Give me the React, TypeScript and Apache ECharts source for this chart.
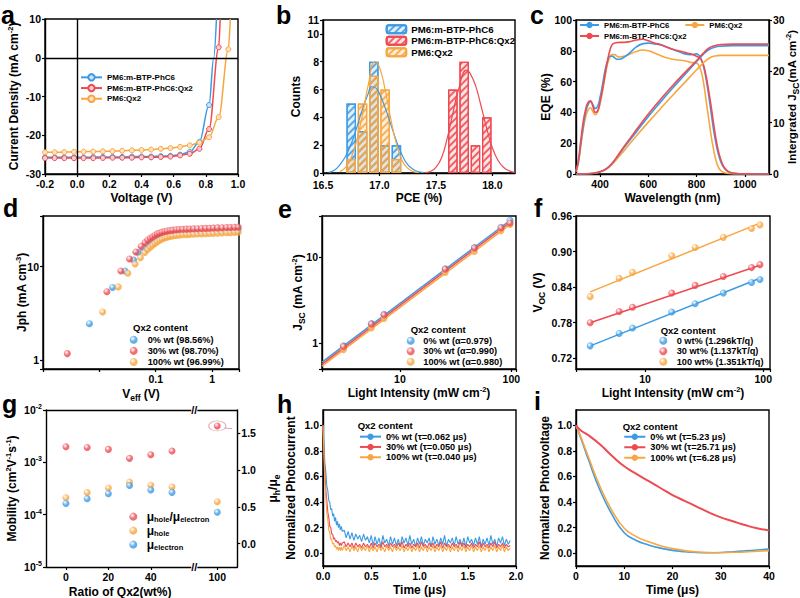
import React, { useEffect, useRef } from "react";
import * as echarts from "echarts";

const FONT = '"Liberation Sans", Arial, Helvetica, sans-serif';
const BLUE = "#3d9be3";
const RED = "#ee4a52";
const ORANGE = "#f8a640";

// ---------- a : J-V ----------
const aVoltage = [-0.2, -0.14, -0.08, -0.02, 0.04, 0.1, 0.16, 0.22, 0.28, 0.34, 0.4, 0.46, 0.52, 0.58, 0.64, 0.7, 0.76, 0.82, 0.88, 0.94];
const aJBlue = [-25.7, -25.7, -25.7, -25.7, -25.7, -25.6, -25.6, -25.6, -25.6, -25.5, -25.5, -25.5, -25.4, -25.3, -25.0, -24.3, -21.7, -12.2];
const aJRed = [-25.9, -25.9, -25.9, -25.9, -25.9, -25.9, -25.85, -25.8, -25.8, -25.8, -25.7, -25.7, -25.6, -25.5, -25.2, -24.8, -23.5, -18.4, 2.7];
const aJOrange = [-24.4, -24.4, -24.35, -24.3, -24.25, -24.2, -24.15, -24.1, -24.0, -23.9, -23.8, -23.7, -23.5, -23.3, -23.0, -22.6, -21.9, -20.5, -15.3, 2.2];
const aTailBlue = [[0.849, 0], [0.866, 10]];
const aTailRed = [[0.889, 10]];
const aTailOrange = [[0.952, 10]];

// ---------- b : PCE histogram ----------
const bBinsLow = [16.75, 16.85, 16.95, 17.05, 17.15];
const bCountsBlue = [5, 3, 8, 2, 2];
const bCountsOrange = [1, 5, 7, 6, 1];
const bBinsHigh = [17.65, 17.75, 17.85, 17.95];
const bCountsRed = [6, 8, 2, 4];
const bFitBlue = [[16.55, 0.05], [16.6, 0.2], [16.65, 0.6], [16.7, 1.2], [16.75, 2.1], [16.8, 3.3], [16.85, 4.6], [16.9, 5.7], [16.93, 6.2], [16.97, 6.1], [17.0, 5.7], [17.05, 4.7], [17.1, 3.5], [17.15, 2.3], [17.2, 1.3], [17.25, 0.6], [17.3, 0.25], [17.35, 0.08], [17.4, 0.02]];
const bFitOrange = [[16.65, 0.1], [16.7, 0.4], [16.75, 1.1], [16.8, 2.4], [16.85, 4.2], [16.9, 6.3], [16.96, 8.0], [17.0, 7.6], [17.05, 6.0], [17.1, 3.9], [17.15, 2.1], [17.2, 0.9], [17.25, 0.35], [17.3, 0.1], [17.35, 0.02]];
const bFitRed = [[17.4, 0.02], [17.45, 0.1], [17.5, 0.4], [17.55, 1.1], [17.6, 2.5], [17.65, 4.3], [17.7, 6.0], [17.77, 7.4], [17.8, 7.2], [17.85, 6.3], [17.9, 4.8], [17.95, 3.2], [18.0, 1.8], [18.05, 0.9], [18.1, 0.4], [18.15, 0.15], [18.2, 0.05]];
const bTicks = [16.5, 17.0, 17.5, 18.0];

// ---------- c : EQE ----------
const cWave = [300, 310, 320, 330, 340, 350, 360, 370, 380, 390, 400, 410, 420, 430, 440, 450, 460, 470, 480, 500, 525, 550, 575, 600, 625, 650, 675, 700, 725, 750, 775, 800, 810, 820, 830, 840, 850, 860, 870, 880, 890, 900, 910, 920, 930, 950, 975, 1000, 1050, 1100];
const cEqeBlue = [2, 8, 20, 31, 40, 45, 47, 45, 42.5, 44, 50, 58, 67, 73, 76.5, 76.5, 75.5, 74.5, 74.5, 76, 79, 82.5, 84.5, 85, 84.5, 84, 82.5, 81, 79.5, 78, 77.5, 78, 77, 74, 69, 61, 51, 40, 29, 20, 13, 8, 4.8, 2.8, 1.6, 0.5, 0.2, 0.1, 0, 0];
const cEqeRed = [2, 9, 22, 34, 42, 46.5, 47.5, 44, 40, 41, 47, 55, 64, 73, 80, 84, 85, 85.3, 85.5, 85.5, 86, 87, 87.5, 86.5, 85, 84, 82.5, 81, 80, 79, 78, 76.5, 75.5, 74, 70, 63, 54, 44, 33, 23, 15, 9.5, 5.5, 3.2, 1.8, 0.6, 0.2, 0.1, 0, 0];
const cEqeOrange = [1.5, 7, 18, 29, 37, 41.5, 43, 40.5, 38.5, 40.5, 46, 54, 63, 71, 75.5, 77.5, 77.5, 76.5, 76, 76.5, 78, 79.5, 80.5, 80, 78.5, 77, 75.5, 74.5, 74, 73.5, 72.5, 72, 70, 66, 58, 47, 36, 25, 16, 9, 4.5, 2.3, 1.2, 0.7, 0.4, 0.1, 0, 0, 0, 0];
const cWaveJ = [300, 350, 400, 425, 450, 475, 500, 550, 600, 650, 700, 750, 800, 825, 850, 875, 900, 950, 1000, 1100];
const cJscBlue = [0, 0.05, 0.45, 1.0, 2.1, 3.6, 5.2, 8.2, 11.2, 14.0, 16.7, 19.3, 21.9, 23.2, 24.2, 24.7, 24.9, 25.0, 25.0, 25.0];
const cJscRed = [0, 0.05, 0.45, 1.0, 2.1, 3.7, 5.4, 8.6, 11.7, 14.5, 17.2, 19.7, 22.1, 23.4, 24.5, 25.0, 25.2, 25.3, 25.3, 25.3];
const cJscOrange = [0, 0.04, 0.4, 0.9, 1.9, 3.2, 4.6, 7.4, 10.1, 12.7, 15.3, 17.8, 20.3, 21.5, 22.5, 23.0, 23.1, 23.1, 23.1, 23.1];
const cTicks = [400, 600, 800, 1000];

// ---------- d : Jph vs Veff ----------
const dSparseBlue = [[0.00667, 2.45], [0.0172, 6.0], [0.0284, 9.0], [0.0404, 11.8], [0.0488, 14.2], [0.0606, 15.9]];
const dSparseRed = [[0.0027, 1.17], [0.0136, 5.4], [0.0241, 9.0], [0.0343, 12.1], [0.0443, 14.4], [0.055, 16.6], [0.0648, 18.2]];
const dSparseOrange = [[0.01146, 3.27], [0.0216, 6.08], [0.032, 8.5], [0.043, 10.7], [0.0536, 12.5], [0.064, 14.2]];
const dDenseV = [0.072, 0.08, 0.088, 0.097, 0.107, 0.118, 0.13, 0.145, 0.16, 0.18, 0.2, 0.23, 0.26, 0.3, 0.35, 0.4, 0.47, 0.55, 0.65, 0.77, 0.9, 1.05, 1.25, 1.5, 1.8, 2.1, 2.5, 2.9];
const dDenseBlue = [17.3, 18.3, 19.2, 20.0, 20.8, 21.4, 21.9, 22.4, 22.8, 23.1, 23.4, 23.6, 23.8, 23.9, 24.0, 24.1, 24.2, 24.3, 24.4, 24.5, 24.6, 24.6, 24.7, 24.8, 24.9, 25.0, 25.1, 25.2];
const dDenseRed = [19.3, 20.2, 21.0, 21.8, 22.5, 23.0, 23.5, 23.9, 24.2, 24.5, 24.7, 24.9, 25.1, 25.2, 25.3, 25.4, 25.5, 25.6, 25.7, 25.8, 25.9, 26.0, 26.1, 26.2, 26.3, 26.4, 26.5, 26.6];
const dDenseOrange = [15.3, 16.2, 17.0, 17.8, 18.5, 19.2, 19.8, 20.3, 20.7, 21.1, 21.4, 21.6, 21.8, 22.0, 22.1, 22.2, 22.3, 22.4, 22.5, 22.6, 22.7, 22.8, 22.9, 23.0, 23.1, 23.2, 23.3, 23.4];

// ---------- e : Jsc vs light ----------
const eLight = [3.12, 5.55, 7.2, 25.5, 46.6, 80.7, 97.2];
const eJscBlue = [0.93, 1.69, 2.16, 7.3, 12.9, 22.2, 26.7];
const eJscRed = [0.91, 1.66, 2.12, 7.2, 12.7, 21.8, 24.9];
const eJscOrange = [0.84, 1.5, 1.93, 6.6, 11.6, 20.3, 23.9];
const eFitLight = [2, 97];
const eFitBlue = [0.6, 26.6];
const eFitRed = [0.57, 25.3];
const eFitOrange = [0.54, 23.8];

// ---------- f : Voc vs light ----------
const fLight = [3.43, 6.03, 7.82, 16.8, 26.5, 45.9, 79.6, 93.7];
const fVocBlue = [0.741, 0.762, 0.771, 0.798, 0.812, 0.83, 0.848, 0.853];
const fVocRed = [0.78, 0.799, 0.806, 0.83, 0.843, 0.858, 0.873, 0.878];
const fVocOrange = [0.824, 0.855, 0.865, 0.893, 0.907, 0.924, 0.939, 0.945];
const fFitLight = [3.43, 93.7];
const fFitBlue = [0.741, 0.855];
const fFitRed = [0.78, 0.877];
const fFitOrange = [0.832, 0.948];
const fTicks = [0.72, 0.78, 0.84, 0.9, 0.96];

// ---------- g : mobility ----------
const gRatioQx2 = [0, 10, 20, 30, 40, 50, 100];
const gHole = [2.1e-4, 2.64e-4, 3.24e-4, 4.18e-4, 3.66e-4, 3.39e-4, 1.77e-4];
const gElectron = [1.64e-4, 2.02e-4, 2.52e-4, 3.6e-4, 2.96e-4, 2.67e-4, 1.11e-4];
const gRatio = [1.318, 1.31, 1.283, 1.161, 1.21, 1.26, 1.603];
const gTicksLeft = [0, 20, 40];
const gTicksRight = [100];
const gTicksRatio = [0, 0.5, 1.0, 1.5];

// ---------- h : TPC ----------
const hHeadBlue = [1.0, 0.86, 0.7, 0.63, 0.52, 0.49, 0.41, 0.4, 0.34, 0.35, 0.29, 0.31, 0.25, 0.28, 0.22, 0.25, 0.2, 0.23, 0.18, 0.21, 0.17];
const hHeadRed = [1.0, 0.8, 0.63, 0.49, 0.41, 0.32, 0.28, 0.21, 0.2, 0.15, 0.15, 0.11, 0.12, 0.09, 0.1, 0.08, 0.09, 0.06, 0.08, 0.06, 0.08];
const hHeadOrange = [1.0, 0.76, 0.54, 0.43, 0.31, 0.26, 0.18, 0.16, 0.11, 0.11, 0.07, 0.08, 0.05, 0.06, 0.03, 0.05, 0.02, 0.05, 0.02, 0.05, 0.02];
const hTailBlue = [0.18, 0.12, 0.17, 0.11, 0.16, 0.1, 0.15, 0.11, 0.14, 0.09, 0.15, 0.1, 0.13, 0.08, 0.14,
  0.06, 0.13, 0.07, 0.12, 0.05, 0.14, 0.08, 0.11, 0.06, 0.13, 0.07, 0.12, 0.06, 0.11, 0.05, 0.13, 0.08, 0.12, 0.06, 0.14,
  0.07, 0.11, 0.05, 0.12, 0.07, 0.13, 0.06, 0.11, 0.08, 0.12, 0.05, 0.13, 0.07, 0.11, 0.06, 0.12, 0.07, 0.14, 0.05, 0.11,
  0.08, 0.12, 0.06, 0.13, 0.07, 0.11, 0.06, 0.12, 0.05, 0.13, 0.08, 0.11, 0.06, 0.12, 0.07, 0.13, 0.05, 0.11, 0.07, 0.12,
  0.06, 0.14, 0.07, 0.11, 0.05, 0.12, 0.08, 0.13, 0.06, 0.11, 0.07, 0.1];
const hTailRed = [0.09, 0.05, 0.08, 0.05, 0.08, 0.04, 0.08, 0.05, 0.07, 0.04, 0.08, 0.05, 0.07, 0.04, 0.08,
  0.04, 0.08, 0.05, 0.07, 0.04, 0.09, 0.05, 0.07, 0.04, 0.08, 0.05, 0.07, 0.04, 0.08, 0.05, 0.09, 0.04, 0.07, 0.05, 0.08,
  0.04, 0.07, 0.05, 0.08, 0.04, 0.09, 0.05, 0.07, 0.04, 0.08, 0.05, 0.08, 0.04, 0.07, 0.05, 0.09, 0.04, 0.08, 0.05, 0.07,
  0.04, 0.08, 0.05, 0.07, 0.04, 0.09, 0.05, 0.08, 0.04, 0.07, 0.05, 0.08, 0.04, 0.07, 0.05, 0.09, 0.04, 0.08, 0.05, 0.07,
  0.04, 0.08, 0.05, 0.09, 0.04, 0.07, 0.05, 0.08, 0.04, 0.07, 0.05, 0.06];
const hTailOrange = [0.06, 0.02, 0.05, 0.01, 0.06, 0.02, 0.05, 0.01, 0.06, 0.02, 0.05, 0.02, 0.06, 0.01, 0.05,
  0.02, 0.05, 0.01, 0.06, 0.02, 0.05, 0.01, 0.06, 0.02, 0.05, 0.01, 0.06, 0.02, 0.05, 0.02, 0.06, 0.01, 0.05, 0.02, 0.06,
  0.01, 0.05, 0.02, 0.06, 0.01, 0.05, 0.02, 0.06, 0.01, 0.05, 0.02, 0.06, 0.01, 0.05, 0.02, 0.06, 0.01, 0.05, 0.02, 0.06,
  0.01, 0.05, 0.02, 0.06, 0.01, 0.05, 0.02, 0.06, 0.01, 0.05, 0.02, 0.06, 0.01, 0.05, 0.02, 0.06, 0.01, 0.05, 0.02, 0.06,
  0.01, 0.05, 0.02, 0.06, 0.01, 0.05, 0.02, 0.06, 0.01, 0.05, 0.02, 0.04];
const hHeadStep = 0.01;
const hTailStart = 0.22;
const hTailStep = 0.02;
const normTicks = [0, 0.2, 0.4, 0.6, 0.8, 1.0];

// ---------- i : TPV ----------
const iTime = [0, 1, 2.5, 5, 7.5, 10, 12.5, 15, 17.5, 20, 22.5, 25, 27.5, 30, 32.5, 35, 37.5, 40];
const iBlue = [1.0, 0.9, 0.74, 0.49, 0.3, 0.16, 0.1, 0.065, 0.04, 0.022, 0.012, 0.006, 0.004, 0.006, 0.012, 0.018, 0.025, 0.032];
const iOrange = [1.0, 0.91, 0.76, 0.52, 0.33, 0.195, 0.13, 0.09, 0.058, 0.036, 0.02, 0.01, 0.005, 0.004, 0.007, 0.01, 0.015, 0.02];
const iRed = [1.0, 0.96, 0.925, 0.85, 0.76, 0.68, 0.62, 0.565, 0.51, 0.455, 0.41, 0.365, 0.32, 0.28, 0.25, 0.22, 0.195, 0.178];

// ---------- labels ----------
const LABELS: Record<string, string> = {
  a0: "PM6:m-BTP-PhC6", a1: "PM6:m-BTP-PhC6:Qx2", a2: "PM6:Qx2",
  b0: "PM6:m-BTP-PhC6", b1: "PM6:m-BTP-PhC6:Qx2", b2: "PM6:Qx2",
  c0: "PM6:m-BTP-PhC6", c1: "PM6:m-BTP-PhC6:Qx2", c2: "PM6:Qx2",
  d0: "0% wt (98.56%)", d1: "30% wt (98.70%)", d2: "100% wt (96.99%)",
  e0: "0% wt (α=0.979)", e1: "30% wt (α=0.990)", e2: "100% wt (α=0.980)",
  f0: "0 wt% (1.296kT/q)", f1: "30 wt% (1.137kT/q)", f2: "100 wt% (1.351kT/q)",
  g0: "{m|μ}{s|hole}{m|/μ}{s|electron}", g1: "{m|μ}{s|hole}", g2: "{m|μ}{s|electron}",
  h0: "0% wt (τ=0.062 μs)", h1: "30% wt (τ=0.050 μs)", h2: "100% wt (τ=0.040 μs)",
  i0: "0% wt (τ=5.23 μs)", i1: "30% wt (τ=25.71 μs)", i2: "100% wt (τ=6.28 μs)",
};
const LEGEND_TITLE = "Qx2 content";

// ---------- helpers ----------
const zip = (xs: number[], ys: number[]) => ys.map((y, i) => [xs[i], y]);

function ball(c: string): any {
  return {
    type: "radial", x: 0.38, y: 0.35, r: 0.7, global: false,
    colorStops: [{ offset: 0, color: "#ffffff" }, { offset: 0.55, color: c }, { offset: 1, color: c }],
  };
}

const RICH: any = {
  sup: { fontSize: 7.5, fontWeight: "bold", fontFamily: FONT, color: "#000", verticalAlign: "top", lineHeight: 16 },
  sub: { fontSize: 8.5, fontWeight: "bold", fontFamily: FONT, color: "#000", verticalAlign: "bottom", lineHeight: 16 },
};

function isPow10(v: number) {
  const l = Math.log10(v);
  return Math.abs(l - Math.round(l)) < 1e-6;
}
function logFmt(minShow = 0) {
  return (v: number) => {
    if (!isPow10(v) || v < minShow * 0.999) return "";
    const l = Math.round(Math.log10(v));
    return l < 0 ? Math.pow(10, l).toFixed(-l) : String(Math.round(Math.pow(10, l)));
  };
}

function axis(o: any): any {
  const a: any = {
    gridIndex: o.grid,
    type: o.type || "value",
    min: o.min,
    max: o.max,
    position: o.position,
    show: o.show !== false,
    axisLine: { show: true, onZero: false, lineStyle: { color: "#000", width: 1.4 } },
    axisTick: { show: o.ticks !== false, inside: false, length: 3, lineStyle: { color: "#000", width: 1.2 } },
    axisLabel: { show: o.labelsShow !== false, color: "#000", fontSize: 10.5, fontWeight: "bold", fontFamily: FONT, margin: o.margin || 4 },
    splitLine: { show: false },
    minorTick: { show: false },
    name: o.name || "",
    nameLocation: "middle",
    nameGap: o.nameGap || 20,
    nameMoveOverlap: false,
    nameTextStyle: { color: "#000", fontSize: o.nameSize || 12, fontWeight: "bold", fontFamily: FONT, lineHeight: o.nameLH || 16, rich: RICH },
  };
  if (o.interval != null) a.interval = o.interval;
  if (a.type === "log") a.logBase = 10;
  if (o.custom) {
    a.axisTick.customValues = o.custom;
    a.axisLabel.customValues = o.custom;
  }
  a.axisLabel.formatter = o.fmt || ((v: number) => String(v));
  if (o.rich) a.axisLabel.rich = o.rich;
  return a;
}

function legend(o: any): any {
  const l: any = {
    show: true,
    orient: o.orient || "vertical",
    left: o.left,
    top: o.top,
    padding: 0,
    itemGap: o.gap || 0,
    itemWidth: o.w,
    itemHeight: o.h,
    selectedMode: false,
    data: o.data,
    formatter: (n: string) => LABELS[n] || n,
    textStyle: {
      color: "#000", fontSize: o.fs, fontWeight: "bold", fontFamily: FONT,
      lineHeight: o.lh, padding: [0, 0, 0, o.pad || 0],
    },
  };
  if (o.rich) l.textStyle.rich = o.rich;
  if (o.lineWidth) l.lineStyle = { width: o.lineWidth };
  return l;
}

function scat(name: string, xi: number, yi: number, data: any[], color: string, size = 7): any {
  return { type: "scatter", name, xAxisIndex: xi, yAxisIndex: yi, data, symbol: "circle", symbolSize: size, itemStyle: { color: ball(color) }, z: 4 };
}
function line(name: string, xi: number, yi: number, data: any[], color: string, width = 1.5, extra: any = {}): any {
  return {
    type: "line", name, xAxisIndex: xi, yAxisIndex: yi, data, symbol: "none", showSymbol: false,
    lineStyle: { color, width }, itemStyle: { color }, z: 3, ...extra,
  };
}

function hatch(color: string): any {
  return { symbol: "rect", symbolSize: 1, color, dashArrayX: [1, 0], dashArrayY: [1.3, 2.2], rotation: -Math.PI / 4 };
}

function hData(head: number[], tail: number[]) {
  const out: number[][] = [];
  head.forEach((v, i) => out.push([i * hHeadStep, v]));
  tail.forEach((v, i) => out.push([hTailStart + i * hTailStep, v]));
  return out;
}

function aSeries(name: string, js: number[], tail: number[][], color: string, tint: string): any {
  const data: any[] = js.map((j, i) => [aVoltage[i], j]);
  tail.forEach((p) => data.push({ value: p, symbol: "none" }));
  return {
    type: "line", name, xAxisIndex: 0, yAxisIndex: 0, data, smooth: 0.35, smoothMonotone: "x",
    symbol: "circle", symbolSize: 5, showSymbol: true,
    lineStyle: { color, width: 1.5 },
    itemStyle: { color: tint, borderColor: color, borderWidth: 1 },
    z: 3,
  };
}

function buildOption(): any {
  const gridBase = { show: true, borderColor: "#000", borderWidth: 1.4, backgroundColor: "transparent", containLabel: false, outerBoundsMode: "none" };
  const grid = [
    { ...gridBase, left: 45, top: 19, width: 193, height: 155 }, // 0 a
    { ...gridBase, left: 323, top: 20, width: 192, height: 153 }, // 1 b
    { ...gridBase, left: 576, top: 20, width: 193, height: 154 }, // 2 c
    { ...gridBase, left: 43, top: 216, width: 196, height: 153 }, // 3 d
    { ...gridBase, left: 322, top: 216, width: 194, height: 153 }, // 4 e
    { ...gridBase, left: 576, top: 216, width: 194, height: 153 }, // 5 f
    { ...gridBase, show: false, left: 46, top: 410, width: 148.3, height: 157 }, // 6 g left
    { ...gridBase, show: false, left: 194.3, top: 410, width: 43, height: 157 }, // 7 g right
    { ...gridBase, left: 323, top: 410, width: 193, height: 156 }, // 8 h
    { ...gridBase, left: 576, top: 410, width: 193, height: 156 }, // 9 i
  ];

  const f1 = (v: number) => v.toFixed(1);
  const gLogRich = {
    b: { fontSize: 10.5, fontWeight: "bold", fontFamily: FONT, color: "#000", lineHeight: 14 },
    sup: { fontSize: 7, fontWeight: "bold", fontFamily: FONT, color: "#000", verticalAlign: "top", lineHeight: 14 },
  };

  const xAxis = [
    axis({ grid: 0, min: -0.2, max: 1.0, interval: 0.2, fmt: f1, name: "Voltage (V)", nameGap: 16 }), // 0
    axis({ grid: 1, min: 16.5, max: 18.2, custom: bTicks, fmt: f1, name: "PCE (%)", nameGap: 17, margin: 6 }), // 1
    axis({ grid: 2, min: 300, max: 1100, custom: cTicks, name: "Wavelength (nm)", nameGap: 16 }), // 2
    axis({ grid: 3, type: "log", min: 0.001, max: 3, fmt: logFmt(0.1), name: "V{sub|eff} (V)", nameGap: 17 }), // 3
    axis({ grid: 4, type: "log", min: 2, max: 110, fmt: logFmt(), name: "Light Intensity (mW cm{sup|-2})", nameGap: 16 }), // 4
    axis({ grid: 5, type: "log", min: 2.6, max: 114, fmt: logFmt(), name: "Light Intensity (mW cm{sup|-2})", nameGap: 16 }), // 5
    axis({ grid: 6, min: -9.4, max: 60.5, custom: gTicksLeft, position: "bottom", name: "Ratio of Qx2(wt%)", nameGap: 18, nameLH: 13 }), // 6
    axis({ grid: 6, min: -9.4, max: 60.5, position: "top", ticks: false, labelsShow: false }), // 7
    axis({ grid: 7, min: 89.2, max: 109.4, custom: gTicksRight, position: "bottom" }), // 8
    axis({ grid: 7, min: 89.2, max: 109.4, position: "top", ticks: false, labelsShow: false }), // 9
    axis({ grid: 8, min: 0, max: 2.0, interval: 0.5, fmt: f1, name: "Time (μs)", nameGap: 17, nameLH: 14 }), // 10
    axis({ grid: 9, min: 0, max: 40, interval: 10, name: "Time (μs)", nameGap: 17, nameLH: 14 }), // 11
  ];

  const yAxis = [
    axis({ grid: 0, min: -30, max: 10, interval: 10, name: "Current Density (mA cm{sup|-2})", nameGap: 23 }), // 0
    axis({ grid: 1, min: 0, max: 11, interval: 2, name: "Counts", nameGap: 19 }), // 1
    axis({ grid: 2, min: 0, max: 100, interval: 20, name: "EQE (%)", nameGap: 22, position: "left" }), // 2
    axis({ grid: 2, min: 0, max: 30, interval: 10, name: "Intergrated J{sub|SC}(mA cm{sup|-2})", nameGap: 15, nameSize: 11.5, position: "right" }), // 3
    axis({ grid: 3, type: "log", min: 0.8, max: 35, fmt: logFmt(), name: "Jph (mA cm{sup|-3})", nameGap: 13 }), // 4
    axis({ grid: 4, type: "log", min: 0.5, max: 30, fmt: logFmt(), name: "J{sub|SC} (mA cm{sup|-2})", nameGap: 16 }), // 5
    axis({ grid: 5, min: 0.702, max: 0.96, custom: fTicks, fmt: (v: number) => v.toFixed(2), name: "V{sub|OC} (V)", nameGap: 30 }), // 6
    axis({
      grid: 6, type: "log", min: 1e-5, max: 1e-2, position: "left", name: "Mobility (cm{sup|2}V{sup|-1}s{sup|-1})", nameGap: 26,
      rich: gLogRich,
      fmt: (v: number) => (isPow10(v) ? "{b|10}{sup|" + Math.round(Math.log10(v)) + "}" : ""),
    }), // 7
    axis({ grid: 6, min: -0.32, max: 1.82, position: "right", show: false }), // 8
    axis({ grid: 7, type: "log", min: 1e-5, max: 1e-2, position: "left", show: false }), // 9
    axis({ grid: 7, min: -0.32, max: 1.82, position: "right", custom: gTicksRatio, fmt: f1, name: "μ{sub|h}/μ{sub|e}", nameGap: 28 }), // 10
    axis({ grid: 8, min: -0.1, max: 1.12, custom: normTicks, fmt: f1, name: "Normalized Photocurrent", nameGap: 24 }), // 11
    axis({ grid: 9, min: -0.1, max: 1.12, custom: normTicks, fmt: f1, name: "Normalized Photovoltage", nameGap: 23 }), // 12
  ];

  const series: any[] = [];

  // a
  const aBlue = aSeries("a0", aJBlue, aTailBlue, BLUE, "#cfe6f8");
  aBlue.markLine = {
    silent: true, symbol: ["none", "none"], label: { show: false },
    lineStyle: { color: "#000", width: 1.4, type: "solid" },
    data: [{ xAxis: 0 }, { yAxis: 0 }],
  };
  series.push(aBlue);
  series.push(aSeries("a1", aJRed, aTailRed, RED, "#f9cfd1"));
  series.push(aSeries("a2", aJOrange, aTailOrange, ORANGE, "#fde3c0"));

  // b
  const barBase = { type: "bar", xAxisIndex: 1, yAxisIndex: 1, barWidth: 9.5, barGap: "-100%", z: 2 };
  series.push({ ...barBase, name: "b0", data: zip(bBinsLow, bCountsBlue), itemStyle: { color: "rgba(61,155,227,0.15)", borderColor: BLUE, borderWidth: 1.2, decal: hatch("rgba(61,155,227,0.85)") } });
  series.push({ ...barBase, name: "b2", data: zip(bBinsLow, bCountsOrange), itemStyle: { color: "rgba(248,166,64,0.18)", borderColor: ORANGE, borderWidth: 1.2, decal: hatch("rgba(248,166,64,0.85)") } });
  series.push({ ...barBase, name: "b1", data: zip(bBinsHigh, bCountsRed), itemStyle: { color: "rgba(238,74,82,0.15)", borderColor: RED, borderWidth: 1.2, decal: hatch("rgba(238,74,82,0.85)") } });
  series.push(line("b3", 1, 1, bFitBlue, BLUE, 1.2, { smooth: true, z: 5 }));
  series.push(line("b4", 1, 1, bFitOrange, ORANGE, 1.2, { smooth: true, z: 5 }));
  series.push(line("b5", 1, 1, bFitRed, RED, 1.2, { smooth: true, z: 5 }));

  // c
  series.push(line("c2", 2, 2, zip(cWave, cEqeOrange), ORANGE, 1.6, { smooth: true }));
  series.push(line("c0", 2, 2, zip(cWave, cEqeBlue), BLUE, 1.6, { smooth: true }));
  series.push(line("c1", 2, 2, zip(cWave, cEqeRed), RED, 1.6, { smooth: true }));
  series.push(line("c5", 2, 3, zip(cWaveJ, cJscOrange), ORANGE, 1.6, { smooth: true }));
  series.push(line("c3", 2, 3, zip(cWaveJ, cJscBlue), BLUE, 1.6, { smooth: true }));
  series.push(line("c4", 2, 3, zip(cWaveJ, cJscRed), RED, 1.6, { smooth: true }));

  // d
  series.push(scat("d0", 3, 4, [...dSparseBlue, ...zip(dDenseV, dDenseBlue)], BLUE));
  series.push(scat("d2", 3, 4, [...dSparseOrange, ...zip(dDenseV, dDenseOrange)], ORANGE));
  series.push(scat("d1", 3, 4, [...dSparseRed, ...zip(dDenseV, dDenseRed)], RED));

  // e
  series.push(line("e3", 4, 5, zip(eFitLight, eFitBlue), BLUE, 1.5));
  series.push(line("e5", 4, 5, zip(eFitLight, eFitOrange), ORANGE, 1.5));
  series.push(line("e4", 4, 5, zip(eFitLight, eFitRed), RED, 1.5));
  series.push(scat("e0", 4, 5, zip(eLight, eJscBlue), BLUE));
  series.push(scat("e2", 4, 5, zip(eLight, eJscOrange), ORANGE));
  series.push(scat("e1", 4, 5, zip(eLight, eJscRed), RED));

  // f
  series.push(line("f3", 5, 6, zip(fFitLight, fFitBlue), BLUE, 1.5));
  series.push(line("f4", 5, 6, zip(fFitLight, fFitRed), RED, 1.5));
  series.push(line("f5", 5, 6, zip(fFitLight, fFitOrange), ORANGE, 1.5));
  series.push(scat("f0", 5, 6, zip(fLight, fVocBlue), BLUE));
  series.push(scat("f1", 5, 6, zip(fLight, fVocRed), RED));
  series.push(scat("f2", 5, 6, zip(fLight, fVocOrange), ORANGE));

  // g
  const leftPart = (ys: number[]) => zip(gRatioQx2, ys).filter((p) => p[0] <= 60);
  const rightPart = (ys: number[]) => zip(gRatioQx2, ys).filter((p) => p[0] >= 89);
  series.push(scat("g1", 6, 7, leftPart(gHole), ORANGE));
  series.push(scat("g2", 6, 7, leftPart(gElectron), BLUE));
  series.push(scat("g0", 6, 8, leftPart(gRatio), RED));
  series.push(scat("g1r", 8, 9, rightPart(gHole), ORANGE));
  series.push(scat("g2r", 8, 9, rightPart(gElectron), BLUE));
  series.push(scat("g0r", 8, 10, rightPart(gRatio), RED));
  series.push({
    type: "scatter", name: "g0mark", xAxisIndex: 8, yAxisIndex: 10, data: rightPart(gRatio),
    symbol: "circle", symbolSize: [17, 10], z: 2,
    itemStyle: { color: "rgba(0,0,0,0)", borderColor: "#d9a3ab", borderWidth: 1 },
    markLine: {
      silent: true, symbol: ["none", "arrow"], symbolSize: [0, 5], label: { show: false },
      lineStyle: { color: "#d9a3ab", width: 1, type: "solid" },
      data: [[{ coord: [103.5, 1.575] }, { coord: [107, 1.565] }]],
    },
  });

  // h
  series.push(line("h0", 10, 11, hData(hHeadBlue, hTailBlue), BLUE, 1.1));
  series.push(line("h1", 10, 11, hData(hHeadRed, hTailRed), RED, 1.1));
  series.push(line("h2", 10, 11, hData(hHeadOrange, hTailOrange), ORANGE, 1.1));

  // i
  series.push(line("i0", 11, 12, zip(iTime, iBlue), BLUE, 1.6, { smooth: true }));
  series.push(line("i2", 11, 12, zip(iTime, iOrange), ORANGE, 1.6, { smooth: true }));
  series.push(line("i1", 11, 12, zip(iTime, iRed), RED, 2, { smooth: true }));

  const legends = [
    legend({ left: 80, top: 72, w: 21, h: 8, lh: 10.7, fs: 8, data: ["a0", "a1", "a2"] }),
    legend({ left: 385.7, top: 23.5, w: 19.5, h: 8, lh: 11.5, fs: 9.7, data: ["b0", "b1", "b2"] }),
    legend({ orient: "horizontal", left: 579, top: 20, w: 19, h: 8, lh: 10, fs: 7.7, gap: 15, data: ["c0", "c2"], lineWidth: 2 }),
    legend({ left: 579, top: 31, w: 19, h: 8, lh: 10, fs: 7.7, data: ["c1"], lineWidth: 2 }),
    legend({ left: 129.7, top: 334.2, w: 8, h: 8, lh: 11.1, fs: 9.2, pad: 5, data: ["d0", "d1", "d2"] }),
    legend({ left: 406.7, top: 335.5, w: 8, h: 8, lh: 10.5, fs: 9.2, pad: 3.6, data: ["e0", "e1", "e2"] }),
    legend({ left: 659.3, top: 335.5, w: 8, h: 8, lh: 10.5, fs: 9.2, pad: 4.4, data: ["f0", "f1", "f2"] }),
    legend({
      left: 129.3, top: 509.6, w: 8, h: 8, lh: 14.8, fs: 12, pad: 4.4, data: ["g0", "g1", "g2"],
      rich: {
        m: { fontSize: 12, fontWeight: "bold", fontFamily: FONT, color: "#000", lineHeight: 14 },
        s: { fontSize: 7.5, fontWeight: "bold", fontFamily: FONT, color: "#000", verticalAlign: "bottom", lineHeight: 14 },
      },
    }),
    legend({ left: 359, top: 431.5, w: 21, h: 8, lh: 10.3, fs: 9.2, data: ["h0", "h1", "h2"], lineWidth: 2 }),
    legend({ left: 623.3, top: 431.5, w: 21, h: 8, lh: 10.5, fs: 9.2, data: ["i0", "i1", "i2"], lineWidth: 2 }),
  ];

  const LETTER_SIZE = 25;
  const letter = (t: string, x: number, baseline: number) => ({
    type: "text", x, y: baseline - 0.35 * LETTER_SIZE, z: 100,
    style: { text: t, font: "bold " + LETTER_SIZE + "px " + FONT, fill: "#000", verticalAlign: "middle", align: "left" },
  });
  const title = (x: number, y: number) => ({
    type: "text", x, y, z: 100,
    style: { text: LEGEND_TITLE, font: "bold 9.5px " + FONT, fill: "#000", verticalAlign: "middle", align: "left" },
  });
  const brk = (x: number, y: number) => ({
    type: "text", x, y, z: 100,
    style: { text: "//", font: "bold 11px " + FONT, fill: "#000", verticalAlign: "middle", align: "center", backgroundColor: "#fff", padding: [0, 0] },
  });

  const graphic = [
    letter("a", 1, 23.5), letter("b", 276, 23.5), letter("c", 530, 23.5),
    letter("d", 3, 217), letter("e", 278, 218), letter("f", 534, 217),
    letter("g", 2, 413), letter("h", 277, 413), letter("i", 534, 410),
    title(133, 327), title(410.7, 329.3), title(660.7, 330), title(357.7, 425), title(622.7, 426),
    brk(194.3, 410), brk(194.3, 567),
  ];

  return {
    animation: false,
    backgroundColor: "#ffffff",
    textStyle: { fontFamily: FONT },
    grid, xAxis, yAxis, series, legend: legends, graphic,
  };
}

export default function App() {
  const ref = useRef<HTMLDivElement>(null);
  useEffect(() => {
    document.body.style.margin = "0";
    const chart = echarts.init(ref.current as HTMLDivElement, undefined, { renderer: "svg" });
    chart.setOption(buildOption());
    return () => chart.dispose();
  }, []);
  return <div ref={ref} style={{ width: 800, height: 598, position: "absolute", left: 0, top: 0 }} />;
}
